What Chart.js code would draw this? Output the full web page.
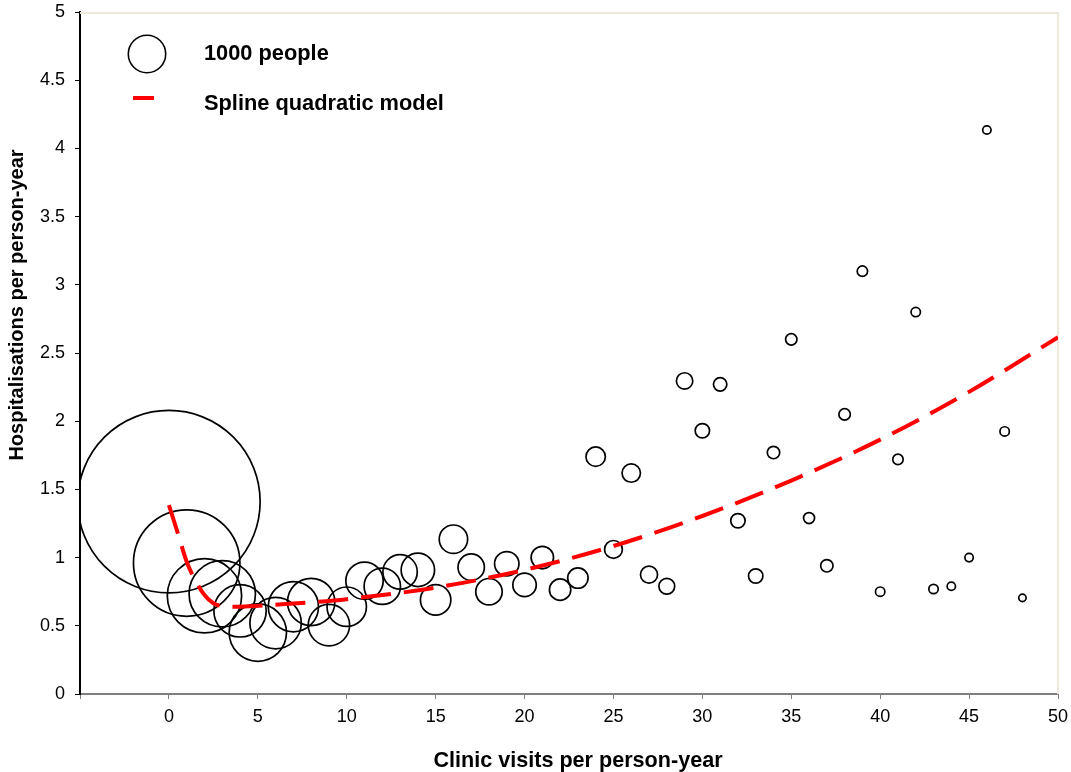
<!DOCTYPE html>
<html>
<head>
<meta charset="utf-8">
<script src="https://cdn.jsdelivr.net/npm/chart.js@4.4.1/dist/chart.umd.min.js"></script>
<style>
    html, body { margin: 0; padding: 0; background: #fff; }
    #wrap { width: 1071px; height: 772px; }
</style>
</head>
<body>
<div id="wrap"><canvas id="chart" width="1071" height="772"></canvas></div>
<script>
// ==========================================
// DATA
// ==========================================
const visits = [0, 1, 2, 3, 4, 5, 6, 7, 8, 9, 10, 11, 12, 13, 14, 15, 16, 17, 18, 19, 20,
                21, 22, 23, 24, 25, 26, 27, 28, 29, 30, 31, 32, 33, 34, 35, 36, 37, 38, 39, 40,
                41, 42, 43, 44, 45, 46, 47, 48];
const hospRate = [1.41, 0.96, 0.72, 0.735, 0.61, 0.45, 0.52, 0.64, 0.675, 0.505, 0.64,
                  0.83, 0.79, 0.895, 0.91, 0.69, 1.135, 0.93, 0.75, 0.955, 0.80,
                  1.0, 0.765, 0.85, 1.74, 1.06, 1.62, 0.875, 0.79, 2.295, 1.93,
                  2.27, 1.27, 0.865, 1.77, 2.60, 1.29, 0.94, 2.05, 3.10, 0.75,
                  1.72, 2.80, 0.77, 0.79, 1.00, 4.135, 1.925, 0.705];
const people = [23800, 8100, 3950, 3150, 1960, 2350, 1890, 1800, 1600, 1225, 1110,
                1000, 947, 846, 798, 661, 577, 498, 500, 426, 392,
                359, 327, 298, 269, 227, 242, 207, 178, 192, 148,
                128, 148, 148, 110, 93, 87, 110, 93, 77, 63,
                77, 63, 63, 50, 50, 50, 63, 39];

// spline quadratic model curve
const modelX = [0, 0.5, 1, 1.5, 2, 2.5, 3, 4, 6, 8, 10, 15, 20, 25, 30, 35, 40, 45, 50];
const modelY = [1.385, 1.18, 0.97, 0.83, 0.725, 0.665, 0.645, 0.64, 0.655, 0.672, 0.695,
                0.78, 0.91, 1.085, 1.305, 1.565, 1.865, 2.215, 2.615];

const xTicks = [0, 5, 10, 15, 20, 25, 30, 35, 40, 45, 50];
const yTicks = [0, 0.5, 1, 1.5, 2, 2.5, 3, 3.5, 4, 4.5, 5];

const LEGEND_R = 18.7;   // radius of the "1000 people" circle
const FONT = '"Liberation Sans", Arial, Helvetica, sans-serif';

function bubbleRadius(n) {
    return LEGEND_R * Math.sqrt(n / 1000);
}

// khung, chú thích và tiêu đề trục
const decorations = {
    id: 'decorations',
    beforeDatasetsDraw(chart) {
        const { ctx, chartArea: a } = chart;
        ctx.save();
        ctx.strokeStyle = '#ece8dc';
        ctx.lineWidth = 2;
        ctx.beginPath();
        ctx.moveTo(a.left, a.top + 1);
        ctx.lineTo(a.right, a.top + 1);
        ctx.lineTo(a.right, a.bottom);
        ctx.stroke();
        ctx.restore();
    },
    afterDraw(chart) {
        const { ctx } = chart;
        ctx.save();
        // legend
        ctx.strokeStyle = '#000';
        ctx.lineWidth = 1.6;
        ctx.beginPath();
        ctx.arc(147, 54, LEGEND_R, 0, Math.PI * 2);
        ctx.stroke();

        ctx.strokeStyle = '#ff0000';
        ctx.lineWidth = 4;
        ctx.beginPath();
        ctx.moveTo(133, 98);
        ctx.lineTo(154, 98);
        ctx.stroke();

        ctx.fillStyle = '#000';
        ctx.font = 'bold 21.8px ' + FONT;
        ctx.textAlign = 'left';
        ctx.textBaseline = 'alphabetic';
        ctx.fillText('1000 people', 204, 60);
        ctx.fillText('Spline quadratic model', 204, 110);

        // axis titles
        ctx.font = 'bold 21.6px ' + FONT;
        ctx.textAlign = 'center';
        ctx.fillText('Clinic visits per person-year', 578, 767);

        ctx.translate(23, 305);
        ctx.rotate(-Math.PI / 2);
        ctx.font = 'bold 20px ' + FONT;
        ctx.fillText('Hospitalisations per person-year', 0, 0);
        ctx.restore();
    }
};

Chart.defaults.font.family = FONT;
Chart.defaults.color = '#000';

new Chart(document.getElementById('chart'), {
    type: 'bubble',
    data: {
        datasets: [
            {
                type: 'line',
                label: 'Spline quadratic model',
                data: modelX.map((x, i) => ({ x: x, y: modelY[i] })),
                borderColor: '#ff0000',
                borderWidth: 4,
                borderDash: [30, 13],
                borderCapStyle: 'butt',
                pointRadius: 0,
                fill: false,
                cubicInterpolationMode: 'monotone',
                order: 1
            },
            {
                type: 'bubble',
                label: '1000 people',
                data: visits.map((x, i) => ({ x: x, y: hospRate[i], r: bubbleRadius(people[i]) })),
                borderColor: '#000',
                borderWidth: 1.7,
                backgroundColor: 'rgba(0,0,0,0)',
                order: 2
            }
        ]
    },
    options: {
        responsive: false,
        animation: false,
        events: [],
        layout: { autoPadding: false, padding: { left: 0, top: 12, right: 13, bottom: 0 } },
        plugins: {
            legend: { display: false },
            tooltip: { enabled: false }
        },
        scales: {
            x: {
                type: 'linear',
                min: -5,
                max: 50,
                afterBuildTicks: (scale) => {
                    scale.ticks = [-5].concat(xTicks).map(v => ({ value: v }));
                },
                afterFit: (scale) => {
                    scale.height = 78;
                    scale.paddingLeft = 0;
                    scale.paddingRight = 0;
                },
                ticks: {
                    autoSkip: false,
                    maxRotation: 0,
                    padding: 7,
                    font: { size: 18 },
                    color: '#000',
                    callback: (v) => xTicks.includes(v) ? String(v) : ''
                },
                grid: { drawOnChartArea: false, drawTicks: true, tickLength: 5, color: '#7f7f7f', lineWidth: 1 },
                border: { color: '#7f7f7f', width: 2 }
            },
            y: {
                type: 'linear',
                min: 0,
                max: 5,
                afterBuildTicks: (scale) => {
                    scale.ticks = yTicks.map(v => ({ value: v }));
                },
                afterFit: (scale) => {
                    scale.width = 80;
                    scale.paddingTop = 0;
                    scale.paddingBottom = 0;
                },
                ticks: {
                    autoSkip: false,
                    padding: 10,
                    font: { size: 18 },
                    color: '#000',
                    callback: (v) => String(v)
                },
                grid: { drawOnChartArea: false, drawTicks: true, tickLength: 5, color: '#000', lineWidth: 1 },
                border: { color: '#000', width: 2 }
            }
        }
    },
    plugins: [decorations]
});
</script>
</body>
</html>
